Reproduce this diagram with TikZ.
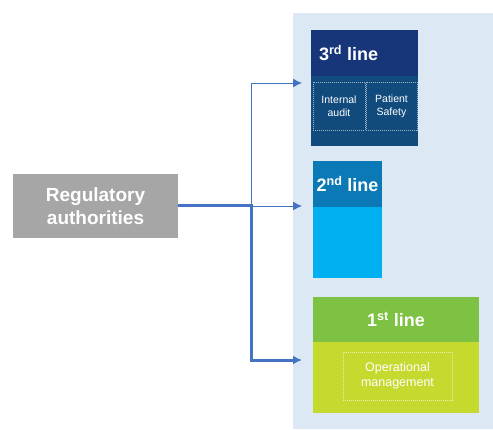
\documentclass[tikz,border=0pt]{standalone}
\usepackage{fontspec}
\setmainfont{Liberation Sans}
\usetikzlibrary{arrows.meta,positioning}

\definecolor{panelblue}{HTML}{DDE8F5}
\definecolor{regray}{HTML}{A6A6A6}
\definecolor{navyhead}{HTML}{17367A}
\definecolor{navybody}{HTML}{114A7C}
\definecolor{midhead}{HTML}{0A79B6}
\definecolor{midbody}{HTML}{00B0F0}
\definecolor{greenhead}{HTML}{7DC242}
\definecolor{greenbody}{HTML}{C6D92E}
\definecolor{linkblue}{HTML}{4472C4}

\begin{document}
\begin{tikzpicture}[x=1pt,y=-1pt,
     box/.style = {rectangle, inner sep=0pt, outer sep=0pt, text=white},
     head/.style = {box, font=\bfseries\fontsize{18}{21}\selectfont},
     sub/.style = {box, draw=white, draw opacity=0.6, dash pattern=on 1pt off 1pt,
      line width=0.5pt, align=center, font=\fontsize{10.5}{13}\selectfont},
     thinlink/.style = {draw=linkblue, line width=1pt},
     thicklink/.style = {draw=linkblue, line width=3pt},
     tip/.style = {-{Latex[length=9pt,width=9pt]}}
    ]
    \useasboundingbox (0,0) rectangle (493,429);
    \fill[panelblue] (293,13) rectangle (493,429);

    % regulator
    \node [box, fill=regray, minimum width=165, minimum height=64, align=center,
      font=\bfseries\fontsize{19}{23}\selectfont] (reg) at (95.5,206) {Regulatory\\authorities};

    % 3rd line
    \node [box, fill=navybody, minimum width=107, minimum height=116] (third) at (364.5,88) {};
    \node [head, fill=navyhead, minimum width=107, minimum height=46, anchor=north] (thirdh) at (third.north) {};
    \node [head, anchor=west] at ([xshift=8]thirdh.west) {3\textsuperscript{rd} line};
    \node [sub, minimum width=52, minimum height=48] (audit) at (339,106) {Internal\\audit};
    \node [sub, minimum width=51, minimum height=48] (safety) at (391.5,106) {Patient\\Safety};

    % 2nd line
    \node [box, fill=midbody, minimum width=69, minimum height=117] (second) at (347.5,219.5) {};
    \node [head, fill=midhead, minimum width=69, minimum height=46, anchor=north] (secondh) at (second.north) {2\textsuperscript{nd} line};

    % 1st line
    \node [box, fill=greenbody, minimum width=166, minimum height=116] (first) at (396,355) {};
    \node [head, fill=greenhead, minimum width=166, minimum height=45, anchor=north] (firsth) at (first.north) {1\textsuperscript{st} line};
    \node [sub, minimum width=109, minimum height=48, font=\fontsize{12.5}{15.5}\selectfont] (ops) at (397.5,376) {Operational\\management};

    % links
    \coordinate (split) at (251,206);
    \coordinate (to3) at (302,83);
    \coordinate (to2) at (302,206);
    \coordinate (to1) at (302,360);
    \draw[thinlink, tip] (split) |- (to3);
    \draw[thinlink, tip] (split) -- (to2);
    \draw[thicklink, tip] ([yshift=1]reg.east) -| (split) |- (to1);
\end{tikzpicture}
\end{document}
